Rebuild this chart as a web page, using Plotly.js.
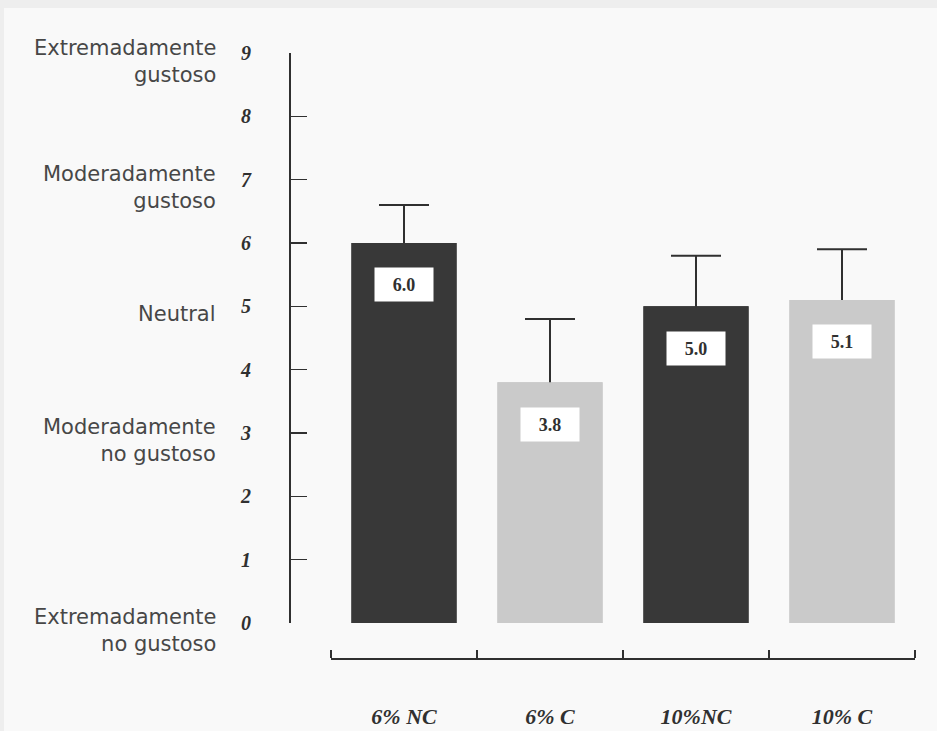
<!DOCTYPE html>
<html>
<head>
<meta charset="utf-8">
<script src="https://cdn.plot.ly/plotly-3.0.1.min.js"></script>
<style>html,body{margin:0;padding:0;background:#f9f9f9;}</style>
</head>
<body>
<div id="chart" style="width:937px;height:731px;"></div>
<script>
// ---- data ----
const categories = ['6% NC', '6% C', '10%NC', '10% C'];
const means = [6.0, 3.8, 5.0, 5.1];
const errorsUp = [0.6, 1.0, 0.8, 0.8];
const valueLabels = ['6.0', '3.8', '5.0', '5.1'];
const scaleTicks = [0, 1, 2, 3, 4, 5, 6, 7, 8, 9];
const descriptorValues = [9, 7, 5, 3, 0];
const descriptorText = [
  'Extremadamente<br>gustoso',
  'Moderadamente<br>gustoso',
  'Neutral',
  'Moderadamente<br>no gustoso',
  'Extremadamente<br>no gustoso'
];

// ---- styling ----
const dark = '#383838', light = '#cacaca', ink = '#303030';
const xIdx = categories.map((_, i) => i);
const barColors = categories.map((_, i) => (i % 2 === 0 ? dark : light));

// bars carrying the (symmetric) error bars; the lower half is hidden by the next trace
const errTrace = {
  type: 'bar', x: xIdx, y: means, width: 0.72,
  marker: { color: barColors, line: { width: 0 } },
  error_y: { type: 'data', symmetric: true, array: errorsUp, color: ink, thickness: 2, width: 25 },
  hoverinfo: 'skip', showlegend: false
};
// the visible bars, drawn on top
const barTrace = {
  type: 'bar', x: xIdx, y: means, width: 0.72,
  marker: { color: barColors, line: { width: 0 } },
  hoverinfo: 'skip', showlegend: false
};

const annotations = [];
valueLabels.forEach((t, i) => {
  annotations.push({
    x: xIdx[i], y: means[i], xref: 'x', yref: 'y',
    text: t, showarrow: false, yshift: -42,
    bgcolor: '#ffffff', width: 56, height: 31,
    font: { family: 'Liberation Serif, Times New Roman, serif', size: 18, color: ink, weight: 'bold' }
  });
});
descriptorValues.forEach((v, i) => {
  annotations.push({
    x: -0.1152, xref: 'paper', y: v, yref: 'y',
    xanchor: 'right', align: 'right', yshift: -8,
    text: descriptorText[i], showarrow: false,
    font: { family: 'DejaVu Sans, Arial, sans-serif', size: 21, color: '#474747' }
  });
});

const layout = {
  width: 937, height: 731,
  margin: { l: 290, r: 22, t: 53, b: 73, pad: 0 },
  paper_bgcolor: '#f9f9f9',
  plot_bgcolor: 'rgba(0,0,0,0)',
  barmode: 'overlay',
  xaxis: {
    type: 'linear',
    domain: [0.0656, 1],
    range: [-0.5, 3.5],
    anchor: 'free', position: 0,
    showline: true, linecolor: ink, linewidth: 1.5,
    showgrid: false, zeroline: false,
    tickmode: 'array', tickvals: xIdx, ticktext: categories,
    ticks: '',
    ticklabelstandoff: 38,
    tickfont: { family: 'Liberation Serif, Times New Roman, serif', size: 22, color: ink, style: 'italic', weight: 'bold' },
    minor: { ticks: 'inside', tick0: 0.5, dtick: 1, ticklen: 8, tickwidth: 1.5, tickcolor: ink, showgrid: false },
    fixedrange: true
  },
  yaxis: {
    domain: [0.0579, 1],
    range: [0, 9],
    anchor: 'free', position: 0,
    showline: true, linecolor: ink, linewidth: 2,
    showgrid: false, zeroline: false,
    tickmode: 'array', tickvals: scaleTicks, ticktext: scaleTicks.map(String),
    ticks: 'inside', ticklen: 16, tickwidth: 1.5, tickcolor: ink,
    ticklabelstandoff: 34,
    tickfont: { family: 'Liberation Serif, Times New Roman, serif', size: 20, color: ink, style: 'italic', weight: 'bold' },
    fixedrange: true
  },
  shapes: [
    { type: 'rect', xref: 'paper', yref: 'paper', x0: -0.464, x1: -0.4576, y0: -0.1207, y1: 1.0876,
      fillcolor: '#eeeeee', line: { width: 0 } },
    { type: 'rect', xref: 'paper', yref: 'paper', x0: -0.464, x1: 1.0352, y0: 1.0744, y1: 1.0876,
      fillcolor: '#eeeeee', line: { width: 0 } }
  ],
  annotations: annotations
};

Plotly.newPlot('chart', [errTrace, barTrace], layout, { displayModeBar: false, staticPlot: true });
</script>
</body>
</html>
